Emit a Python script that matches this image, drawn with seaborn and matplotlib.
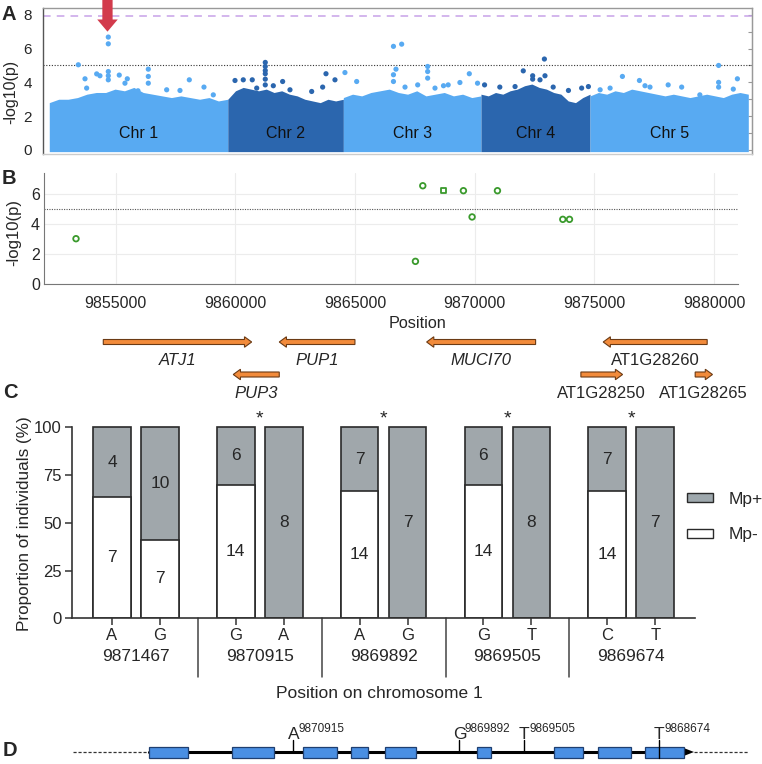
import numpy as np
import pandas as pd
import seaborn as sns
import matplotlib.pyplot as plt
from matplotlib.patches import FancyArrow, Rectangle, Patch

# ---------------- DATA ----------------
# A: genome-wide scan (positions in Mb, cumulative over the 5 chromosomes)
chrom_names = ['Chr 1', 'Chr 2', 'Chr 3', 'Chr 4', 'Chr 5']
chrom_len_mb = [30.43, 19.70, 23.46, 18.59, 26.98]
# upper edge of the dense SNP cloud, read along each chromosome
cloud_chr1 = [2.8, 3.0, 3.0, 3.1, 3.3, 3.4, 3.4, 3.6, 3.5, 3.7, 3.4, 3.3, 3.2, 3.1, 3.2, 3.1, 3.0, 3.1, 2.9, 3.0]
cloud_chr2 = [3.0, 3.5, 3.7, 3.6, 3.5, 3.6, 3.4, 3.5, 3.3, 3.2, 3.0, 2.9, 2.8, 3.0, 2.9, 3.0]
cloud_chr3 = [3.1, 3.3, 3.2, 3.4, 3.5, 3.6, 3.4, 3.3, 3.5, 3.2, 3.3, 3.4, 3.2, 3.3, 3.1, 3.2]
cloud_chr4 = [3.3, 3.2, 3.4, 3.3, 3.5, 3.6, 3.8, 3.9, 3.7, 3.6, 3.4, 3.3, 2.9, 2.8, 3.1, 3.3]
cloud_chr5 = [3.2, 3.4, 3.3, 3.5, 3.4, 3.6, 3.5, 3.4, 3.3, 3.2, 3.3, 3.2, 3.1, 3.2, 3.3, 3.2, 3.1, 3.3, 3.4, 3.3]
# SNPs standing out above the cloud
peak_pos_mb = [4.95, 6.09, 8.08, 8.64, 10.06, 10.06, 10.06, 10.06, 10.06, 11.93, 13.3, 16.88, 16.88, 16.88,
               15.12, 20.01, 22.28, 23.87, 26.37, 6.37, 12.9, 27.96,
               36.82, 36.82, 36.82, 36.82, 36.82, 36.82, 31.66, 33.07, 34.6, 39.78, 47.17, 46.6, 48.7,
               35.36, 38.19, 41.03, 44.73,
               50.4, 52.4, 58.67, 60.07, 59.1, 58.67, 58.67, 64.5, 64.5, 64.5, 62.8, 60.64, 71.6, 70.0,
               67.2, 68.0, 65.75, 73.0,
               84.4, 80.8, 82.4, 82.4, 83.65, 84.5, 76.8, 74.2, 79.4, 85.9, 88.5, 91.9, 90.75,
               114.1, 114.1, 114.1, 97.7, 100.6, 101.55, 102.4, 105.5, 107.8, 117.3, 116.6, 95.6, 93.9, 110.9]
peak_logp = [5.04, 4.21, 4.5, 4.39, 6.68, 6.28, 4.64, 4.39, 4.15, 4.43, 4.21, 4.78, 4.35, 3.95,
             3.5, 3.56, 3.52, 4.15, 3.72, 3.66, 3.95, 3.26,
             5.18, 4.94, 4.70, 4.51, 4.19, 3.85, 4.11, 4.15, 4.15, 4.05, 4.51, 3.72, 4.15,
             3.66, 3.8, 3.56, 3.46,
             4.58, 4.05, 6.13, 6.26, 4.78, 4.45, 4.05, 4.94, 4.64, 4.25, 3.85, 3.72, 4.51, 3.99,
             3.8, 3.85, 3.66, 3.95,
             5.38, 4.68, 4.39, 4.19, 4.15, 4.39, 3.72, 3.85, 3.75, 3.72, 3.52, 3.75, 3.66,
             5.0, 4.0, 3.72, 4.35, 4.11, 3.8, 3.72, 3.85, 3.72, 4.21, 3.6, 3.66, 3.56, 3.26]
bonferroni = 7.9
suggestive = 5.0

# B: local association around the peak on chromosome 1
b_position = [9853342, 9867523, 9867830, 9868700, 9869528, 9869890, 9870950, 9873680, 9873960]
b_logp = [3.02, 1.51, 6.55, 6.22, 6.22, 4.47, 6.22, 4.31, 4.31]
b_marker = ['o', 'o', 'o', 's', 'o', 'o', 'o', 'o', 'o']

# gene models under panel B
gene_names = ['ATJ1', 'PUP1', 'PUP3', 'MUCI70', 'AT1G28260', 'AT1G28250', 'AT1G28265']
gene_start = [9854482, 9864996, 9861834, 9872544, 9879712, 9874436, 9879211]
gene_end = [9860681, 9861834, 9859912, 9867991, 9875368, 9876178, 9879934]
gene_row = [0, 0, 1, 0, 0, 1, 1]
gene_italic = [True, True, True, True, False, False, False]

# C: Mp+/Mp- individuals per allele
snp_ids = ['9871467', '9870915', '9869892', '9869505', '9869674']
allele_1 = ['A', 'G', 'A', 'G', 'C']
allele_2 = ['G', 'A', 'G', 'T', 'T']
mp_neg_1 = [7, 14, 14, 14, 14]
mp_pos_1 = [4, 6, 7, 6, 7]
mp_neg_2 = [7, 0, 0, 0, 0]
mp_pos_2 = [10, 8, 7, 8, 7]
significant = ['9870915', '9869892', '9869505', '9869674']

# D: gene model of MUCI70 (schematic units)
exon_start = [149, 232, 303, 351, 385, 476.5, 554, 598, 645]
exon_end = [188, 274, 337, 367.5, 416, 491, 582.6, 630.5, 684]
mark_x = [293.3, 459.4, 524, 659]
mark_allele = ['A', 'G', 'T', 'T']
mark_label = ['9870915', '9869892', '9869505', '9868674']

# ---------------- FIGURE ----------------
sns.set_style('white')
plt.rcParams['font.family'] = ['Liberation Sans', 'DejaVu Sans']

W, H = 762, 764
fig = plt.figure(figsize=(W / 100, H / 100), dpi=100)


def rect(x0, y0, x1, y1):
    return [x0 / W, 1 - y1 / H, (x1 - x0) / W, (y1 - y0) / H]


def ftext(x, y, s, **kw):
    fig.text(x / W, 1 - y / H, s, **kw)


light, dark = '#58aaf2', '#2b66ae'
chrom_colors = [light, dark, light, dark, light]

# ----- A -----
axA = fig.add_axes(rect(43, 8, 752, 154))
offsets = np.concatenate([[0], np.cumsum(chrom_len_mb)])
clouds = [cloud_chr1, cloud_chr2, cloud_chr3, cloud_chr4, cloud_chr5]
for i, top in enumerate(clouds):
    xs = np.linspace(offsets[i], offsets[i + 1], len(top))
    axA.fill_between(xs, -0.1, top, color=chrom_colors[i], lw=0, zorder=2)
    axA.text((offsets[i] + offsets[i + 1]) / 2, 1.0, chrom_names[i], ha='center', va='center',
             fontsize=11.5, color='#111111', zorder=4)

peaks = pd.DataFrame({'pos': peak_pos_mb, 'logp': peak_logp})
peaks['chrom'] = [chrom_names[min(np.searchsorted(offsets, p, side='right') - 1, 4)] for p in peaks['pos']]
sns.scatterplot(data=peaks, x='pos', y='logp', hue='chrom', palette=dict(zip(chrom_names, chrom_colors)),
                s=14, linewidth=0, legend=False, ax=axA, zorder=3)
axA.axhline(bonferroni, color='#c7a2e8', ls=(0, (5, 4)), lw=1.1, zorder=1)
axA.axhline(suggestive, color='#333333', ls=(0, (1, 1.5)), lw=0.8, zorder=1)
axA.add_patch(FancyArrow(9.92, 8.9, 0, -1.9, width=1.75, head_width=3.5, head_length=0.72,
                         length_includes_head=True, color='#d23b4c', lw=0, clip_on=False, zorder=5))
axA.set_xlim(-1.07, 119.79)
axA.set_ylim(-0.24, 8.4)
axA.set_xticks([])
axA.set_yticks([0, 2, 4, 6, 8])
axA.set_yticks([1, 3, 5, 7], minor=True)
axA.tick_params(axis='y', which='major', length=5, width=0.8, color='#666666', labelsize=11, pad=3)
axA.tick_params(axis='y', which='minor', length=3, width=0.8, color='#666666')
axA.set_xlabel('')
axA.set_ylabel('')
for side, c in [('left', '#555555'), ('bottom', '#cccccc'), ('top', '#999999'), ('right', '#999999')]:
    axA.spines[side].set_color(c)
    axA.spines[side].set_linewidth(1.0)
sec = axA.secondary_yaxis('right')
sec.set_yticks(range(0, 9))
sec.tick_params(direction='in', length=3, color='#999999', labelright=False)
sec.spines['right'].set_color('#999999')
ftext(11, 92, '-log10(p)', rotation=90, ha='center', va='center', fontsize=11.5)

# ----- B -----
axB = fig.add_axes(rect(44, 173, 738, 284))
local = pd.DataFrame({'position': b_position, 'logp': b_logp, 'marker': b_marker})
green = '#3a9a2c'
for mk in ['o', 's']:
    sub = local[local['marker'] == mk]
    sns.scatterplot(data=sub, x='position', y='logp', marker=mk, s=16, facecolor='none',
                    edgecolor=green, linewidth=1.3, ax=axB, zorder=3)
axB.axhline(suggestive, color='#555555', ls=(0, (1, 1.2)), lw=0.8, zorder=2)
axB.set_xlim(9852005, 9881000)
axB.set_ylim(0, 7.4)
axB.set_xticks(range(9855000, 9880001, 5000))
axB.set_xticklabels([str(v) for v in range(9855000, 9880001, 5000)])
axB.set_yticks([0, 2, 4, 6])
axB.grid(True, color='#ececec', lw=0.8)
axB.set_axisbelow(True)
axB.tick_params(axis='both', length=0, labelsize=11.5)
axB.tick_params(axis='x', pad=9)
axB.tick_params(axis='y', pad=3)
axB.set_xlabel('')
axB.set_ylabel('')
sns.despine(ax=axB)
for side in ['left', 'bottom']:
    axB.spines[side].set_color('#777777')
ftext(14, 233, '-log10(p)', rotation=90, ha='center', va='center', fontsize=12)
ftext(417, 323, 'Position', ha='center', va='center', fontsize=11.7)

# gene track
axG = fig.add_axes(rect(44, 330, 738, 400))
axG.set_xlim(axB.get_xlim())
axG.set_ylim(400, 330)
axG.axis('off')
row_y = [342, 374.5]
row_label_y = [360.7, 393.5]
for name, s, e, r, it in zip(gene_names, gene_start, gene_end, gene_row, gene_italic):
    axG.add_patch(FancyArrow(s, row_y[r], e - s, 0, width=5, head_width=10.5, head_length=300,
                             length_includes_head=True, fc='#f28b3b', ec='#6b3a14', lw=0.8))
    axG.text((s + e) / 2, row_label_y[r], name, ha='center', va='center', fontsize=12,
             style='italic' if it else 'normal')

# ----- C -----
axC = fig.add_axes(rect(71.7, 408.2, 695, 618.3))
rows = []
for k, (al, neg, pos) in enumerate([(allele_1, mp_neg_1, mp_pos_1), (allele_2, mp_neg_2, mp_pos_2)]):
    for i, sid in enumerate(snp_ids):
        rows.append({'snp': sid, 'slot': str(k + 1), 'allele': al[i], 'neg': neg[i], 'pos': pos[i],
                     'total': 100.0, 'pct_neg': 100.0 * neg[i] / (neg[i] + pos[i])})
prop = pd.DataFrame(rows)
grey = '#9ea8ad'
bar_w, bar_gap = 0.776, 0.215
common = dict(x='snp', hue='slot', order=snp_ids, hue_order=['1', '2'], width=bar_w, gap=bar_gap,
              errorbar=None, edgecolor='#2a2a2a', linewidth=1.2, legend=False, ax=axC)
sns.barplot(data=prop, y='total', palette={'1': grey, '2': grey}, **common)
sns.barplot(data=prop, y='pct_neg', palette={'1': 'white', '2': 'white'}, **common)

centers, letters = [], []
for _, r in prop.iterrows():
    i = snp_ids.index(r['snp'])
    xc = i + (int(r['slot']) - 1.5) * bar_w / 2
    centers.append(xc)
    letters.append(r['allele'])
    if r['pos'] > 0:
        axC.text(xc, (r['pct_neg'] + 100) / 2, str(r['pos']), ha='center', va='center', fontsize=12.5)
    if r['neg'] > 0:
        axC.text(xc, r['pct_neg'] / 2, str(r['neg']), ha='center', va='center', fontsize=12.5)
for sid in significant:
    axC.text(snp_ids.index(sid), 104.5, '*', ha='center', va='center', fontsize=14)

axC.set_xlim(-0.519, 4.515)
axC.set_ylim(0, 110)
axC.set_yticks([0, 25, 50, 75, 100])
axC.set_xticks(centers)
axC.set_xticklabels(letters)
axC.tick_params(axis='y', length=5, width=1.1, color='#333333', labelsize=12, pad=2, direction='out', left=True)
axC.tick_params(axis='x', length=5, width=1.1, color='#333333', labelsize=12, pad=2, direction='out', bottom=True)
axC.set_xlabel('')
axC.set_ylabel('')
sns.despine(ax=axC)
axC.spines['left'].set_bounds(0, 100)
for side in ['left', 'bottom']:
    axC.spines[side].set_color('#333333')
    axC.spines[side].set_linewidth(1.2)
xt = axC.get_xaxis_transform()
ax_h = 618.3 - 408.2
for i, sid in enumerate(snp_ids):
    axC.text(i, -(656.7 - 618.3) / ax_h, sid, transform=xt, ha='center', va='center', fontsize=12.5)
for i in range(len(snp_ids) - 1):
    axC.plot([i + 0.5, i + 0.5], [0, -(676.7 - 618.3) / ax_h], transform=xt, color='#444444',
             lw=1.1, clip_on=False)
handles = [Patch(facecolor=grey, edgecolor='#2a2a2a', label='Mp+'),
           Patch(facecolor='white', edgecolor='#2a2a2a', label='Mp-')]
fig.legend(handles=handles, loc='center left', bbox_to_anchor=(687 / W, 1 - 517 / H), frameon=False,
           fontsize=12.5, handlelength=1.5, handleheight=0.45, handletextpad=0.9, labelspacing=1.2,
           borderpad=0, borderaxespad=0)
ftext(25, 523.5, 'Proportion of individuals (%)', rotation=90, ha='center', va='center', fontsize=12.3)
ftext(379, 693, 'Position on chromosome 1', ha='center', va='center', fontsize=12.5)

# ----- D -----
axD = fig.add_axes(rect(0, 700, 762, 764))
axD.set_xlim(0, W)
axD.set_ylim(764, 700)
axD.axis('off')
line_y = 752
axD.plot([73, exon_start[0]], [line_y, line_y], color='#333333', ls=(0, (2.5, 1.5)), lw=0.9)
axD.plot([exon_end[-1] + 10, 748], [line_y, line_y], color='#333333', ls=(0, (2.5, 1.5)), lw=0.9)
axD.plot([exon_start[0], exon_end[-1]], [line_y, line_y], color='black', lw=2.2)
axD.add_patch(FancyArrow(exon_end[-1] - 2, line_y, 12, 0, width=2.2, head_width=7, head_length=9,
                         length_includes_head=True, color='black', lw=0))
for s, e in zip(exon_start, exon_end):
    axD.add_patch(Rectangle((s, line_y - 5.5), e - s, 11, fc='#4a8fe3', ec='#1f3f70', lw=0.9, zorder=3))
for x, al, lab in zip(mark_x, mark_allele, mark_label):
    axD.plot([x, x], [740, line_y + (5.5 if x > exon_start[-1] else 0)], color='black', lw=1.0, zorder=4)
    axD.text(x, 739, al, ha='center', va='baseline', fontsize=12.5)
    axD.text(x + 5.5, 731.5, lab, ha='left', va='baseline', fontsize=8.5)

# panel letters
for letter, (x, y) in zip('ABCD', [(2, 15), (2, 178), (3, 393), (3, 750)]):
    ftext(x, y, letter, ha='left', va='center', fontsize=14.5, fontweight='bold')

fig.savefig('out.png', dpi=100)
